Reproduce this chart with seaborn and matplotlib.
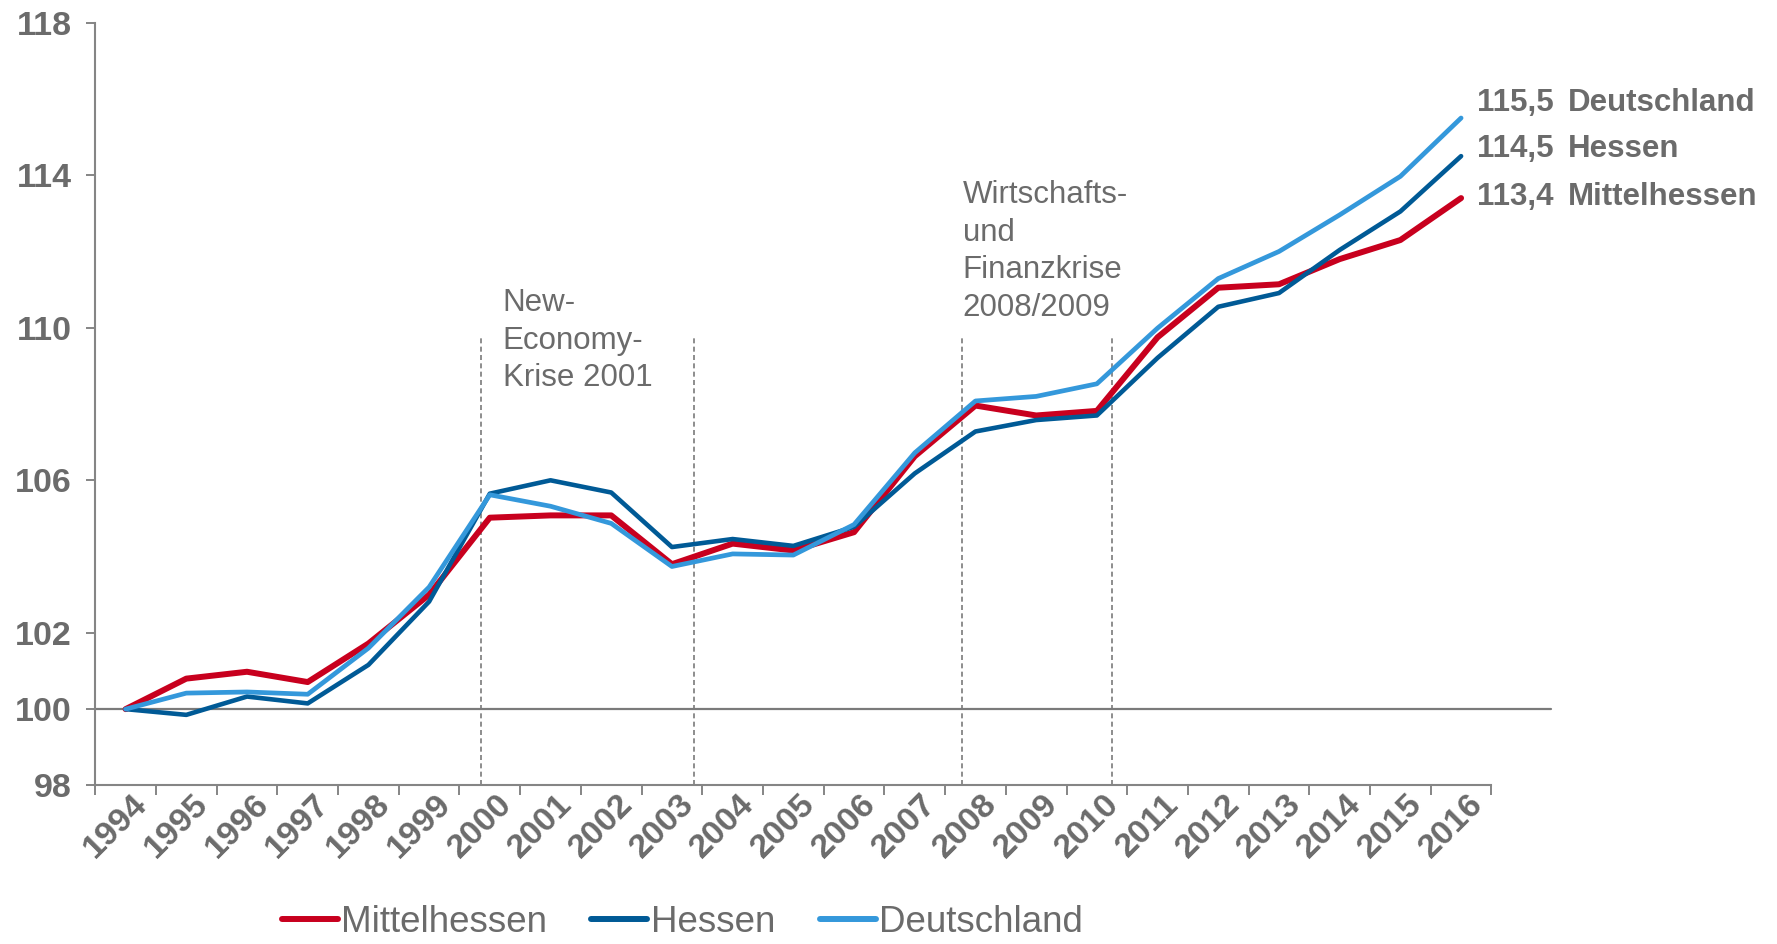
import numpy as np
import pandas as pd
import matplotlib
matplotlib.use("Agg")
import matplotlib.pyplot as plt
import matplotlib.transforms as mtransforms
from matplotlib.lines import Line2D
import seaborn as sns

# --- data -------------------------------------------------------------
years = ["1994", "1995", "1996", "1997", "1998", "1999", "2000", "2001",
         "2002", "2003", "2004", "2005", "2006", "2007", "2008", "2009",
         "2010", "2011", "2012", "2013", "2014", "2015", "2016"]

mittelhessen = [100.0, 100.80, 100.98, 100.71, 101.72, 103.00, 105.02, 105.08,
                105.08, 103.80, 104.34, 104.16, 104.64, 106.63, 107.96, 107.70,
                107.82, 109.75, 111.05, 111.14, 111.80, 112.30, 113.4]
hessen = [100.0, 99.85, 100.33, 100.15, 101.16, 102.82, 105.65, 106.00,
          105.68, 104.25, 104.46, 104.28, 104.78, 106.18, 107.28, 107.58,
          107.70, 109.21, 110.55, 110.91, 112.04, 113.05, 114.5]
deutschland = [100.0, 100.42, 100.45, 100.39, 101.60, 103.20, 105.62, 105.32,
               104.87, 103.74, 104.07, 104.04, 104.84, 106.72, 108.08, 108.20,
               108.53, 109.99, 111.29, 112.00, 112.96, 113.97, 115.5]

series_names = ["Mittelhessen", "Hessen", "Deutschland"]
end_labels = ["113,4", "114,5", "115,5"]
y_ticks = [98, 100, 102, 106, 110, 114, 118]

# crisis periods (in category units) and their captions
crisis_spans = [(5.85, 9.36), (13.78, 16.25)]
crisis_texts = ["New-\nEconomy-\nKrise 2001",
                "Wirtschafts-\nund\nFinanzkrise\n2008/2009"]

# --- styling ----------------------------------------------------------
colors = {"Mittelhessen": "#C8001E", "Hessen": "#005A96", "Deutschland": "#3498DB"}
widths = {"Mittelhessen": 4.3, "Hessen": 3.3, "Deutschland": 3.4}
TXT = "#6B6B6B"
AX = "#858585"

sns.set_style("white")
plt.rcParams["font.family"] = ["Liberation Sans", "DejaVu Sans"]

df = pd.DataFrame({
    "pos": list(range(len(years))) * 3,
    "wert": mittelhessen + hessen + deutschland,
    "region": sum([[n] * len(years) for n in series_names], []),
})

fig = plt.figure(figsize=(17.77, 9.44), dpi=100)
ax = fig.add_axes([0.0536, 0.168, 0.7857, 0.808])

for name in series_names:
    sub = df[df["region"] == name]
    sns.lineplot(data=sub, x="pos", y="wert", ax=ax, color=colors[name],
                 linewidth=widths[name], solid_capstyle="round",
                 solid_joinstyle="round", legend=False, zorder=3)

ax.set_xlim(-0.5, len(years) - 0.5)
ax.set_ylim(98, 118)
ax.set_xlabel("")
ax.set_ylabel("")

# reference line at 100, reaching past the category axis
ax.plot([-0.5, 23.48], [100, 100], color="#7A7A7A", lw=1.6,
        clip_on=False, zorder=2)

# crisis markers
for (x0, x1) in crisis_spans:
    for xv in (x0, x1):
        ax.plot([xv, xv], [98, 109.75], color="#7A7A7A", lw=1.2,
                ls=(0, (3, 2)), zorder=1)

ax.text(6.21, 111.05, crisis_texts[0], ha="left", va="top", fontsize=22.5,
        color=TXT, linespacing=1.34)
ax.text(13.79, 113.88, crisis_texts[1], ha="left", va="top", fontsize=22.5,
        color=TXT, linespacing=1.34)

# end-of-line value labels
series_vals = [mittelhessen, hessen, deutschland]
dy_pts = [-4.9, -0.9, 5.2]
for name, vals, lab, dy in zip(series_names, series_vals, end_labels, dy_pts):
    xi = len(vals) - 1
    ax.annotate(lab, xy=(xi, vals[-1]), xytext=(11.5, dy), textcoords="offset points",
                ha="left", va="baseline", fontsize=22.5, fontweight="bold",
                color=TXT, annotation_clip=False)
    ax.annotate(name, xy=(xi, vals[-1]), xytext=(77, dy), textcoords="offset points",
                ha="left", va="baseline", fontsize=22.5, fontweight="bold",
                color=TXT, annotation_clip=False)

# axes
for s in ("top", "right"):
    ax.spines[s].set_visible(False)
for s in ("left", "bottom"):
    ax.spines[s].set_color(AX)
    ax.spines[s].set_linewidth(1.5)

ax.set_yticks(y_ticks)
ax.set_yticklabels([str(v) for v in y_ticks], fontweight="bold", fontsize=24.5, color=TXT)
ax.tick_params(axis="y", length=6.5, width=1.4, color=AX, pad=10.5, direction="out", left=True)

ax.set_xticks(np.arange(-0.5, len(years), 1.0))
ax.set_xticklabels([])
ax.set_xticks(np.arange(len(years)), minor=True)
ax.set_xticklabels(years, minor=True, rotation=45, ha="right", va="center",
                   rotation_mode="anchor", fontweight="bold", fontsize=24.5, color=TXT)
ax.tick_params(axis="x", which="major", length=7, width=1.4, color=AX, direction="out", bottom=True)
ax.tick_params(axis="x", which="minor", length=0, pad=10)
shift = mtransforms.ScaledTranslation(17 / 100, 0, fig.dpi_scale_trans)
for lab in ax.get_xticklabels(minor=True):
    lab.set_transform(lab.get_transform() + shift)

# legend
handles = [Line2D([0], [0], color=colors[n], lw=4.3, solid_capstyle="round")
           for n in series_names]
fig.legend(handles, series_names, loc="center left",
           bbox_to_anchor=(281.7 / 1777, 1 - 922 / 944), ncol=3, frameon=False,
           fontsize=26.5, handlelength=1.52, handletextpad=0.1, columnspacing=1.2,
           borderpad=0, borderaxespad=0, labelcolor=TXT)

fig.savefig("out.png", dpi=100)
